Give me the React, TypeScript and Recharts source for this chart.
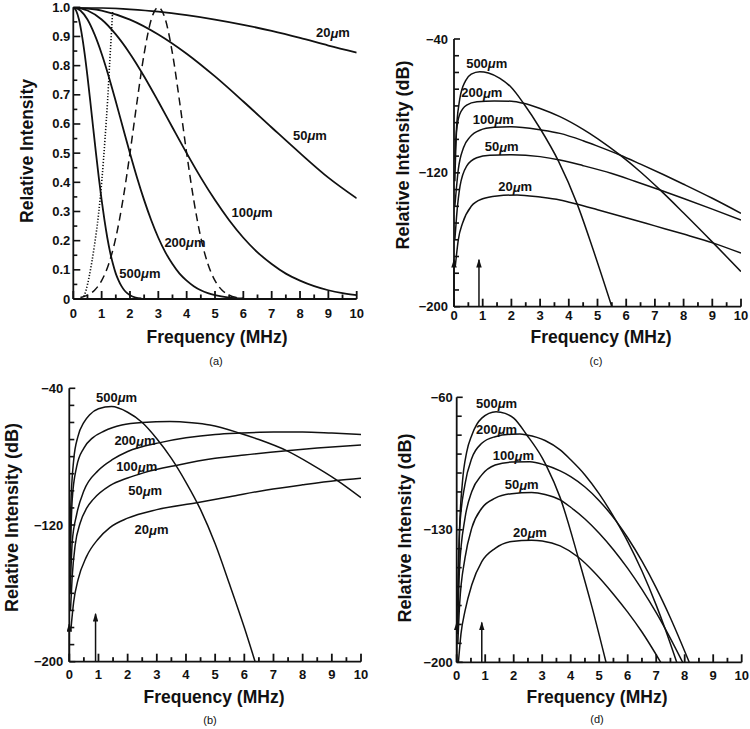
import { LineChart, Line, XAxis, YAxis, ReferenceDot, ReferenceLine } from "recharts"

const FONT = "'Liberation Sans', Arial, Helvetica, sans-serif"
const INK = "#111"

// axis ticks
const freqTicks = [0, 0.5, 1, 1.5, 2, 2.5, 3, 3.5, 4, 4.5, 5, 5.5, 6, 6.5, 7, 7.5, 8, 8.5, 9, 9.5, 10]
const freqLabels = [0, 1, 2, 3, 4, 5, 6, 7, 8, 9, 10]
const linTicks = [0, 0.05, 0.1, 0.15, 0.2, 0.25, 0.3, 0.35, 0.4, 0.45, 0.5, 0.55, 0.6, 0.65, 0.7, 0.75, 0.8, 0.85, 0.9, 0.95, 1]
const linLabels = [0, 0.1, 0.2, 0.3, 0.4, 0.5, 0.6, 0.7, 0.8, 0.9, 1]
const dbTicks40 = [-200, -190, -180, -170, -160, -150, -140, -130, -120, -110, -100, -90, -80, -70, -60, -50, -40]
const dbLabels40 = [-200, -120, -40]
const dbTicks60 = [-200, -190, -180, -170, -160, -150, -140, -130, -120, -110, -100, -90, -80, -70, -60]
const dbLabels60 = [-200, -130, -60]

// (a) relative intensity, linear
const a500 = [[0, 1], [0.1, 0.989], [0.2, 0.958], [0.3, 0.907], [0.4, 0.841], [0.5, 0.763], [0.6, 0.677], [0.7, 0.588], [0.8, 0.5], [0.9, 0.416], [1, 0.339], [1.1, 0.27], [1.2, 0.21], [1.3, 0.16], [1.4, 0.12], [1.5, 0.087], [1.6, 0.063], [1.7, 0.044], [1.8, 0.03], [1.9, 0.02], [2, 0.013], [2.2, 0.005], [2.4, 0.002]]
const a200 = [[0, 1], [0.25, 0.989], [0.5, 0.958], [0.75, 0.907], [1, 0.841], [1.25, 0.763], [1.5, 0.677], [1.75, 0.588], [2, 0.5], [2.25, 0.416], [2.5, 0.339], [2.75, 0.27], [3, 0.21], [3.25, 0.16], [3.5, 0.12], [3.75, 0.087], [4, 0.063], [4.25, 0.044], [4.5, 0.03], [4.75, 0.02], [5, 0.013], [5.5, 0.005], [6, 0.002]]
const a100 = [[0, 1], [0.5, 0.989], [1, 0.958], [1.5, 0.907], [2, 0.841], [2.5, 0.763], [3, 0.677], [3.5, 0.588], [4, 0.5], [4.5, 0.416], [5, 0.339], [5.5, 0.27], [6, 0.21], [6.5, 0.16], [7, 0.12], [7.5, 0.087], [8, 0.063], [8.5, 0.044], [9, 0.03], [9.5, 0.02], [10, 0.013]]
const a50 = [[0, 1], [1, 0.989], [2, 0.958], [3, 0.907], [4, 0.841], [5, 0.763], [6, 0.677], [7, 0.588], [8, 0.5], [9, 0.416], [10, 0.345]]
const a20 = [[0, 1], [1, 0.998], [2, 0.993], [3, 0.985], [4, 0.973], [5, 0.958], [6, 0.94], [7, 0.919], [8, 0.895], [9, 0.869], [10, 0.845]]
const aDashed = [[0.25, 0.005], [0.5, 0.013], [0.75, 0.03], [1, 0.063], [1.25, 0.12], [1.5, 0.21], [1.75, 0.339], [2, 0.5], [2.25, 0.677], [2.5, 0.841], [2.75, 0.958], [3, 1], [3.25, 0.958], [3.5, 0.841], [3.75, 0.677], [4, 0.5], [4.25, 0.339], [4.5, 0.21], [4.75, 0.12], [5, 0.063], [5.25, 0.03], [5.5, 0.013], [5.75, 0.005], [6, 0.002]]
const aDotted = [[0.33, 0], [0.45, 0.03], [0.56, 0.077], [0.74, 0.18], [0.89, 0.29], [1.01, 0.41], [1.12, 0.55], [1.21, 0.68], [1.29, 0.82], [1.35, 0.92], [1.39, 0.99]]
const aLabels = [[9.16, 0.912, "20"], [8.35, 0.562, "50"], [6.31, 0.298, "100"], [3.94, 0.195, "200"], [2.35, 0.089, "500"]]

// (b) dB
const b500 = [[0.02, -150], [0.05, -110], [0.15, -82], [0.3, -68], [0.5, -60], [0.7, -55.5], [1, -52], [1.45, -50.7], [2, -54], [2.5, -60], [3, -69.5], [3.5, -81], [4, -95], [4.5, -111], [5, -131], [5.5, -155], [6, -180], [6.37, -200]]
const b200 = [[0.03, -140], [0.1, -105], [0.25, -86], [0.5, -75], [0.8, -69], [1.2, -65], [1.8, -61.5], [2.5, -60], [3.45, -59.5], [4.2, -60.2], [4.82, -61.5], [5.85, -66.3], [6.5, -70], [7.45, -76.5], [8.3, -84.5], [9.17, -93.7], [10, -104]]
const b100 = [[0.03, -160], [0.1, -130], [0.25, -114], [0.5, -100], [1, -88], [1.5, -81.5], [2, -77], [3.11, -71.8], [4, -69], [5, -67], [5.85, -66.2], [7, -65.6], [8, -65.6], [9, -66.2], [10, -67]]
const b50 = [[0.04, -170], [0.1, -150], [0.2, -132], [0.37, -119], [0.6, -110], [0.82, -105], [1.39, -97], [2, -92.5], [2.54, -89.5], [3.7, -85], [5, -81], [6, -79], [7.45, -76.5], [8.5, -75], [10, -73.2]]
const b20 = [[0.05, -182], [0.15, -165], [0.3, -152], [0.59, -138.5], [1, -128], [1.39, -121.5], [2, -116], [3, -111], [4.37, -107], [5.5, -103.5], [6.77, -99.5], [8, -96.5], [9.17, -94], [10, -92.7]]
const bLabels = [[1.62, -45.3, "500"], [2.25, -70.7, "200"], [2.31, -85.9, "100"], [2.6, -99.9, "50"], [2.82, -122.9, "20"]]
const bArrows = [[0, -178], [0.9, -172]]

// (c) dB
const c500 = [[0.03, -112], [0.1, -90], [0.2, -76], [0.4, -65], [0.6, -61], [0.9, -59.5], [1.2, -60.3], [1.6, -63.5], [2, -69], [2.42, -78.4], [3, -93.5], [3.64, -113], [4.3, -139], [4.85, -166], [5.5, -200]]
const c200 = [[0.03, -125], [0.09, -95], [0.2, -85], [0.44, -79.5], [0.8, -77.5], [1.4, -77], [2, -77.2], [2.42, -78.4], [3, -81.5], [3.69, -86.4], [4.5, -94], [5, -99.5], [5.78, -109.3], [6.5, -119.5], [7.18, -130.2], [8, -144], [9.04, -162], [10, -179]]
const c100 = [[0.03, -140], [0.15, -118], [0.33, -105], [0.56, -98.5], [0.9, -94.5], [1.4, -92.8], [2, -92.4], [3.05, -94.4], [3.69, -96.4], [4.5, -100.8], [5, -104], [5.78, -109.3], [6.5, -114.8], [7.29, -121], [8, -126.8], [9, -135.2], [10, -144.2]]
const c50 = [[0.03, -160], [0.09, -146], [0.21, -128], [0.44, -116], [0.79, -111], [1.25, -109.5], [2, -109.2], [3, -110.3], [3.69, -112.3], [4.5, -115.7], [5.5, -120.4], [6.3, -125], [7.18, -130.2], [8, -135.3], [9, -141.7], [10, -148.2]]
const c20 = [[0.05, -175], [0.15, -160], [0.3, -150], [0.6, -140], [1, -135.5], [1.5, -133.8], [2.2, -133.2], [3, -134.5], [3.69, -136.2], [4.27, -138.6], [5, -142], [6, -146.8], [7, -151.7], [8, -156.6], [9.04, -162], [10, -168]]
const cLabels = [[1.14, -54.5, "500"], [0.97, -72.1, "200"], [1.37, -88, "100"], [1.66, -104.4, "50"], [2.13, -128.3, "20"]]
const cArrows = [[0, -172], [0.87, -172]]

// (d) dB
const d500 = [[0.03, -180], [0.1, -130], [0.2, -105], [0.35, -89], [0.53, -80], [0.88, -71], [1.38, -67.6], [1.7, -68.5], [2, -71], [2.46, -79.9], [3, -92], [3.16, -96.6], [3.63, -113], [4.27, -145], [4.75, -171], [5.24, -200]]
const d200 = [[0.03, -170], [0.1, -130], [0.29, -106], [0.53, -92.2], [0.88, -84.3], [1.35, -80.8], [1.93, -79.5], [2.22, -79.4], [2.46, -79.9], [3.1, -82.8], [3.63, -87.8], [4, -93], [4.5, -101], [5, -111], [5.61, -125.7], [6, -136.2], [6.5, -151.8], [7, -169.8], [7.3, -181.8], [7.72, -200]]
const d100 = [[0.03, -185], [0.1, -150], [0.29, -124], [0.53, -109.8], [0.88, -101], [1.35, -95.8], [1.93, -94.2], [2.57, -94], [3.1, -95.8], [3.63, -98.9], [4, -101.9], [4.5, -107.4], [5, -114.6], [5.61, -125.7], [6, -134.2], [6.5, -146.6], [7, -160.7], [7.5, -176.6], [8.16, -200]]
const d50 = [[0.04, -190], [0.1, -170], [0.29, -145], [0.53, -129], [0.88, -118.6], [1.35, -113.3], [1.93, -110.9], [2.63, -110.3], [3.1, -111.3], [3.63, -114.2], [4, -118.1], [4.5, -124.3], [5, -131.8], [5.5, -140.5], [6, -150.4], [6.5, -161.5], [7, -173.8], [7.3, -181.8], [7.93, -200]]
const d20 = [[0.06, -200], [0.15, -185], [0.29, -173], [0.53, -159], [0.88, -146.8], [1.35, -139.8], [1.93, -136.2], [2.63, -135.5], [3, -135.9], [3.63, -138.5], [4.27, -144.5], [4.8, -152], [5.5, -164], [6, -173.5], [6.5, -184], [7.16, -200]]
const dLabels = [[1.4, -63.2, "500"], [1.4, -76.9, "200"], [1.99, -91, "100"], [2.28, -106.3, "50"], [2.57, -131.5, "20"]]
const dArrows = [[0, -179], [0.88, -179]]

const pts = (arr: number[][]) => arr.map(([f, v]) => ({ f, v }))

const fmtLin = (v: number) => (v === 0 ? "0" : v.toFixed(1))
const fmtDb = (v: number) => "\u2212" + Math.abs(v)

function Panel(props: any) {
    const { box, plot, yDomain, yTicks, yLabels, yFmt, yMajor, yMinor, yGap, xLabelDy,
        curves, labels, arrows, yTitle, yTitleAt, yTitleSize, xTitleAt, caption, captionAt, lineW } = props

    const yAxisW = plot.x0 - box.left
    const top = plot.y0 - box.top
    const right = box.left + box.width - plot.x1
    const xAxisH = box.top + box.height - plot.y1

    // inward tick marks: p.x / p.y sit on the axis line (tickSize and tickMargin are 0)
    const xTick = (p: any) => {
        const v = p.payload.value
        const major = freqLabels.includes(v)
        const x = Number(p.x)
        const y = Number(p.y)
        const len = major ? 8 : 4.5
        return (
            <g className="freq-tick">
                <rect x={x - 0.9} y={y - len} width={1.8} height={len} fill={INK} />
                {major && (
                    <text x={x} y={y + xLabelDy} textAnchor="middle" dominantBaseline="central"
                        fontFamily={FONT} fontWeight="bold" fontSize={13} fill={INK}>
                        {v}
                    </text>
                )}
            </g>
        )
    }

    const yTick = (p: any) => {
        const v = p.payload.value
        const lab = yLabels.includes(v)
        const x = Number(p.x)
        const y = Number(p.y)
        const len = lab ? yMajor : yMinor
        return (
            <g className="val-tick">
                <rect x={x} y={y - 0.8} width={len} height={1.6} fill={INK} />
                {lab && (
                    <text x={x - yGap} y={y} textAnchor="end" dominantBaseline="central"
                        fontFamily={FONT} fontWeight="bold" fontSize={13} fill={INK}>
                        {yFmt(v)}
                    </text>
                )}
            </g>
        )
    }

    const xTitle = () => (
        <g>
            <text x={xTitleAt[0]} y={xTitleAt[1]} textAnchor="middle" dominantBaseline="central"
                fontFamily={FONT} fontWeight="bold" fontSize={17.5} fill={INK}>
                Frequency (MHz)
            </text>
            <text x={captionAt[0]} y={captionAt[1]} textAnchor="middle" dominantBaseline="central"
                fontFamily={FONT} fontSize={11} fill={INK}>
                {caption}
            </text>
        </g>
    )

    const yTitleEl = () => (
        <text transform={`translate(${yTitleAt[0]},${yTitleAt[1]}) rotate(-90)`} textAnchor="middle"
            dominantBaseline="central" fontFamily={FONT} fontWeight="bold" fontSize={yTitleSize} fill={INK}>
            {yTitle}
        </text>
    )

    const curveLabel = (text: string) => (p: any) => {
        const vb = p.viewBox
        const cx = vb.x + (vb.width || 0) / 2
        const cy = vb.y + (vb.height || 0) / 2
        return (
            <text x={cx} y={cy} textAnchor="middle" dominantBaseline="central"
                fontFamily={FONT} fontWeight="bold" fontSize={13} fill={INK}>
                {text}
                <tspan fontStyle="italic">μ</tspan>m
            </text>
        )
    }

    return (
        <div style={{ position: "absolute", left: box.left, top: box.top }}>
            <LineChart width={box.width} height={box.height} margin={{ top, right, bottom: 0, left: 0 }}>
                <XAxis type="number" dataKey="f" domain={[0, 10]} ticks={freqTicks} interval={0}
                    allowDataOverflow tickSize={0} tickMargin={0} height={xAxisH}
                    axisLine={{ stroke: INK, strokeWidth: 1.8 }} tickLine={false} tick={xTick} label={xTitle} />
                <YAxis type="number" domain={yDomain} ticks={yTicks} interval={0} allowDataOverflow
                    tickSize={0} tickMargin={0} width={yAxisW}
                    axisLine={{ stroke: INK, strokeWidth: 1.8 }} tickLine={false} tick={yTick} label={yTitleEl} />
                {curves.map((c: any, i: number) => (
                    <Line key={i} data={pts(c.data)} dataKey="v" type="monotone" dot={false}
                        stroke={INK} strokeWidth={c.width || lineW} strokeDasharray={c.dash}
                        isAnimationActive={false} />
                ))}
                {(arrows || []).map((a: number[], i: number) => (
                    <ReferenceLine key={"ar" + i} segment={[{ x: a[0], y: yDomain[0] }, { x: a[0], y: a[1] }]}
                        stroke={INK} strokeWidth={1.5} markerEnd="url(#arrowHead)" ifOverflow="visible" />
                ))}
                {labels.map((l: any[], i: number) => (
                    <ReferenceDot key={"lb" + i} x={l[0]} y={l[1]} r={1} fill="none" stroke="none"
                        label={curveLabel(l[2])} />
                ))}
            </LineChart>
        </div>
    )
}

export default function App() {
    return (
        <div style={{ position: "absolute", left: 0, top: 0, width: 750, height: 729, background: "#fff" }}>
            <svg width={0} height={0} style={{ position: "absolute" }}>
                <defs>
                    <marker id="arrowHead" viewBox="0 0 8 5" refX={7} refY={2.5} markerWidth={9} markerHeight={5.5}
                        markerUnits="userSpaceOnUse" orient="auto">
                        <path d="M0,0 L8,2.5 L0,5 z" fill={INK} />
                    </marker>
                </defs>
            </svg>
            <Panel
                box={{ left: 0, top: 0, width: 375, height: 370 }}
                plot={{ x0: 73.3, x1: 356.7, y0: 7.3, y1: 299 }}
                yDomain={[0, 1]} yTicks={linTicks} yLabels={linLabels} yFmt={fmtLin}
                yMajor={7} yMinor={4} yGap={3} xLabelDy={14} lineW={1.8}
                curves={[
                    { data: a20 }, { data: a50 }, { data: a100 }, { data: a200 }, { data: a500 },
                    { data: aDashed, dash: "8 5", width: 1.5 },
                    { data: aDotted, dash: "1.2 1.8", width: 1.6 },
                ]}
                labels={aLabels}
                yTitle="Relative Intensity" yTitleAt={[27, 151]} yTitleSize={17.5}
                xTitleAt={[217, 337]} caption="(a)" captionAt={[216, 361]}
            />
            <Panel
                box={{ left: 375, top: 0, width: 375, height: 370 }}
                plot={{ x0: 454, x1: 741, y0: 39, y1: 306.7 }}
                yDomain={[-200, -40]} yTicks={dbTicks40} yLabels={dbLabels40} yFmt={fmtDb}
                yMajor={6} yMinor={5} yGap={6} xLabelDy={9} lineW={1.5}
                curves={[{ data: c500 }, { data: c200 }, { data: c100 }, { data: c50 }, { data: c20 }]}
                labels={cLabels} arrows={cArrows}
                yTitle="Relative Intensity (dB)" yTitleAt={[28, 155]} yTitleSize={18}
                xTitleAt={[226, 337]} caption="(c)" captionAt={[221, 361]}
            />
            <Panel
                box={{ left: 0, top: 370, width: 375, height: 359 }}
                plot={{ x0: 69.3, x1: 361, y0: 388.3, y1: 661.7 }}
                yDomain={[-200, -40]} yTicks={dbTicks40} yLabels={dbLabels40} yFmt={fmtDb}
                yMajor={6} yMinor={5} yGap={6} xLabelDy={12.5} lineW={1.5}
                curves={[{ data: b500 }, { data: b200 }, { data: b100 }, { data: b50 }, { data: b20 }]}
                labels={bLabels} arrows={bArrows}
                yTitle="Relative Intensity (dB)" yTitleAt={[12, 147.5]} yTitleSize={18}
                xTitleAt={[214, 327]} caption="(b)" captionAt={[210, 350]}
            />
            <Panel
                box={{ left: 375, top: 370, width: 375, height: 359 }}
                plot={{ x0: 456.7, x1: 741.7, y0: 397.3, y1: 662.3 }}
                yDomain={[-200, -60]} yTicks={dbTicks60} yLabels={dbLabels60} yFmt={fmtDb}
                yMajor={6} yMinor={5} yGap={4} xLabelDy={12.7} lineW={1.5}
                curves={[{ data: d500 }, { data: d200 }, { data: d100 }, { data: d50 }, { data: d20 }]}
                labels={dLabels} arrows={dArrows}
                yTitle="Relative Intensity (dB)" yTitleAt={[30, 158]} yTitleSize={18}
                xTitleAt={[222, 327]} caption="(d)" captionAt={[222, 349]}
            />
        </div>
    )
}
